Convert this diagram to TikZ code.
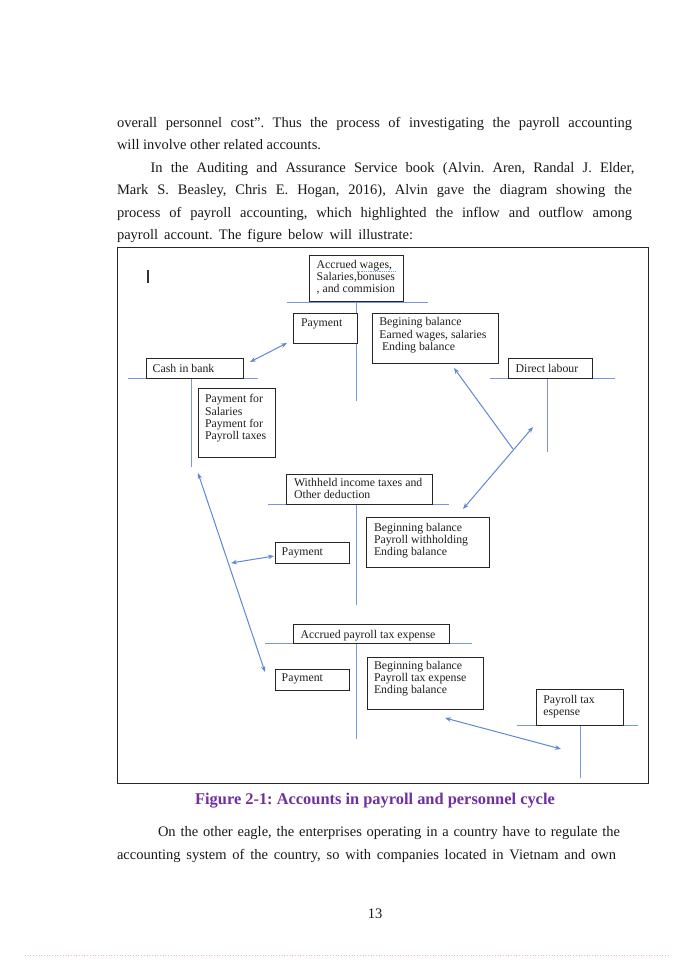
\documentclass[tikz,border=0pt]{standalone}
\usepackage{fontspec}
\setmainfont{Liberation Serif}
\usetikzlibrary{arrows.meta}
\definecolor{tcol}{RGB}{120,150,222}
\definecolor{acol}{RGB}{95,135,215}
\definecolor{capcol}{RGB}{112,48,160}
\definecolor{framecol}{RGB}{40,40,40}
\definecolor{pinkdot}{RGB}{240,175,200}
\frenchspacing
\begin{document}
\begin{tikzpicture}[x=1pt,y=-1pt,
  every node/.style={inner sep=0pt,outer sep=0pt},
  body/.style={font=\fontsize{14.5}{22}\selectfont,anchor=base west,text=black!90},
  lbl/.style={font=\fontsize{11.8}{12.2}\selectfont,anchor=base west,text=black!88},
  acct/.style={draw=black!85,line width=1pt,anchor=north west,fill=white},
  tacc/.style={draw=tcol,line width=1pt},
  flow/.style={draw=acol,line width=1pt,>={Stealth[length=6pt,width=4.5pt]}},
  capt/.style={font=\bfseries\fontsize{16.4}{20}\selectfont,text=capcol,anchor=base}
]
\fill[white] (0,0) rectangle (700,960);
\useasboundingbox (0,0) rectangle (700,960);

% ---- text above ----
\node[body] (p1) at (117,127.5) {\makebox[515pt][s]{overall personnel cost”. Thus the process of investigating the payroll accounting}};
\node[body] (p2) at (117,149.5) {\makebox[204pt][s]{will involve other related accounts.}};
\node[body] (p3) at (150.5,172) {\makebox[484pt][s]{In the Auditing and Assurance Service book (Alvin. Aren, Randal J. Elder,}};
\node[body] (p4) at (117,194.5) {\makebox[515pt][s]{Mark S. Beasley, Chris E. Hogan, 2016), Alvin gave the diagram showing the}};
\node[body] (p5) at (117,217) {\makebox[515pt][s]{process of payroll accounting, which highlighted the inflow and outflow among}};
\node[body] (p6) at (117,239) {\makebox[296pt][s]{payroll account. The figure below will illustrate:}};

% ---- frame ----
\draw[framecol,line width=1pt] (117,247) rectangle (648.5,783);
\draw[black!80,line width=1.1pt] (148,270) -- (148,283);

% ---- T accounts lines ----
\coordinate (accwL) at (287,302); \coordinate (accwR) at (428,302);
\coordinate (accwT) at (356,302); \coordinate (accwB) at (356,401);
\coordinate (cashL) at (128,378); \coordinate (cashR) at (258,378);
\coordinate (cashT) at (191,378); \coordinate (cashB) at (191,467);
\coordinate (dlabL) at (490,378); \coordinate (dlabR) at (615,378);
\coordinate (dlabT) at (547,378); \coordinate (dlabB) at (547,452);
\coordinate (withL) at (268,504); \coordinate (withR) at (449,504);
\coordinate (withT) at (356,504); \coordinate (withB) at (356,605);
\coordinate (accpL) at (265,643); \coordinate (accpR) at (472,643);
\coordinate (accpT) at (356,643); \coordinate (accpB) at (356,739);
\coordinate (ptaxL) at (517,725); \coordinate (ptaxR) at (638,725);
\coordinate (ptaxT) at (580,725); \coordinate (ptaxB) at (580,778);
\foreach \a in {accw,cash,dlab,with,accp,ptax}{
  \draw[tacc] (\a L) -- (\a R);
  \draw[tacc] (\a T) -- (\a B);
}

% ---- boxes ----
\node[acct,minimum width=94pt,minimum height=46pt] (accw) at (309,255) {};
\node[acct,minimum width=64pt,minimum height=30pt] (pay1) at (293,313) {};
\node[acct,minimum width=126pt,minimum height=50pt] (beg1) at (372,313) {};
\node[acct,minimum width=97pt,minimum height=20pt] (cash) at (146,358) {};
\node[acct,minimum width=77pt,minimum height=69pt] (payfor) at (198,388) {};
\node[acct,minimum width=84pt,minimum height=20pt] (dlab) at (508,358) {};
\node[acct,minimum width=146pt,minimum height=30pt] (with) at (286,474) {};
\node[acct,minimum width=123pt,minimum height=50pt] (beg2) at (366,517) {};
\node[acct,minimum width=74pt,minimum height=21pt] (pay2) at (275,542) {};
\node[acct,minimum width=156pt,minimum height=19pt] (accp) at (293,624) {};
\node[acct,minimum width=74pt,minimum height=21pt] (pay3) at (275,669) {};
\node[acct,minimum width=116pt,minimum height=52pt] (beg3) at (367,657) {};
\node[acct,minimum width=87pt,minimum height=36pt] (ptax) at (536,689) {};

% ---- box texts ----
\node[lbl] (accw1) at (316.7,268.5) {Accrued wages,};
\node[lbl] (accw2) at (316.7,280.7) {Salaries,bonuses};
\node[lbl] (accw3) at (316.7,292.9) {, and commision};
\draw[tcol,densely dotted,line width=0.8pt] (357,271) -- (396,271);
\node[lbl] (pay1t) at (301,326.7) {Payment};
\node[lbl] (beg11) at (379.3,325.7) {Begining balance};
\node[lbl] (beg12) at (379.3,338) {Earned wages, salaries};
\node[lbl] (beg13) at (382,350.2) {Ending balance};
\node[lbl] (casht) at (152.7,372.3) {Cash in bank};
\node[lbl] (payf1) at (205,402.7) {Payment for};
\node[lbl] (payf2) at (205,415) {Salaries};
\node[lbl] (payf3) at (205,427.3) {Payment for};
\node[lbl] (payf4) at (205,439.6) {Payroll taxes};
\node[lbl] (dlabt) at (515.7,372.7) {Direct labour};
\node[lbl] (with1) at (294,486.7) {Withheld income taxes and};
\node[lbl] (with2) at (294,498.6) {Other deduction};
\node[lbl] (beg21) at (374,531.3) {Beginning balance};
\node[lbl] (beg22) at (374,543.3) {Payroll withholding};
\node[lbl] (beg23) at (374,555.3) {Ending balance};
\node[lbl] (pay2t) at (281.7,555.7) {Payment};
\node[lbl] (accpt) at (300.7,638) {Accrued payroll tax expense};
\node[lbl] (pay3t) at (281.7,681.7) {Payment};
\node[lbl] (beg31) at (374,669) {Beginning balance};
\node[lbl] (beg32) at (374,681.3) {Payroll tax expense};
\node[lbl] (beg33) at (374,693.5) {Ending balance};
\node[lbl] (ptax1) at (543.3,703.3) {Payroll tax};
\node[lbl] (ptax2) at (543.3,715.3) {espense};

% ---- flows ----
\coordinate (f1a) at (250,362); \coordinate (f1b) at (287,343);
\coordinate (f3a) at (463,509); \coordinate (f3b) at (533,427);
\coordinate (f2a) at (513,449); \coordinate (f2b) at (454,368);
\coordinate (f4a) at (231,563); \coordinate (f4b) at (274,556);
\coordinate (f5a) at (198,473); \coordinate (f5b) at (265,672);
\coordinate (f6a) at (445,718); \coordinate (f6b) at (561,749);
\draw[flow,<->] (f1a) -- (f1b);
\draw[flow,<->] (f3a) -- (f3b);
\draw[flow,->] (f2a) -- (f2b);
\draw[flow,<->] (f4a) -- (f4b);
\draw[flow,<->] (f5a) -- (f5b);
\draw[flow,<->] (f6a) -- (f6b);

% ---- caption and text below ----
\node[capt] (cap) at (375,804) {Figure 2-1: Accounts in payroll and personnel cycle};
\node[body] (q1) at (158,836.5) {\makebox[462pt][s]{On the other eagle, the enterprises operating in a country have to regulate the}};
\node[body] (q2) at (117,859) {\makebox[499pt][s]{accounting system of the country, so with companies located in Vietnam and own}};
\node[body,anchor=base] (pg) at (375,918) {13};
\draw[pinkdot,dotted,line width=0.7pt] (25,955.5) -- (670,955.5);
\end{tikzpicture}
\end{document}
